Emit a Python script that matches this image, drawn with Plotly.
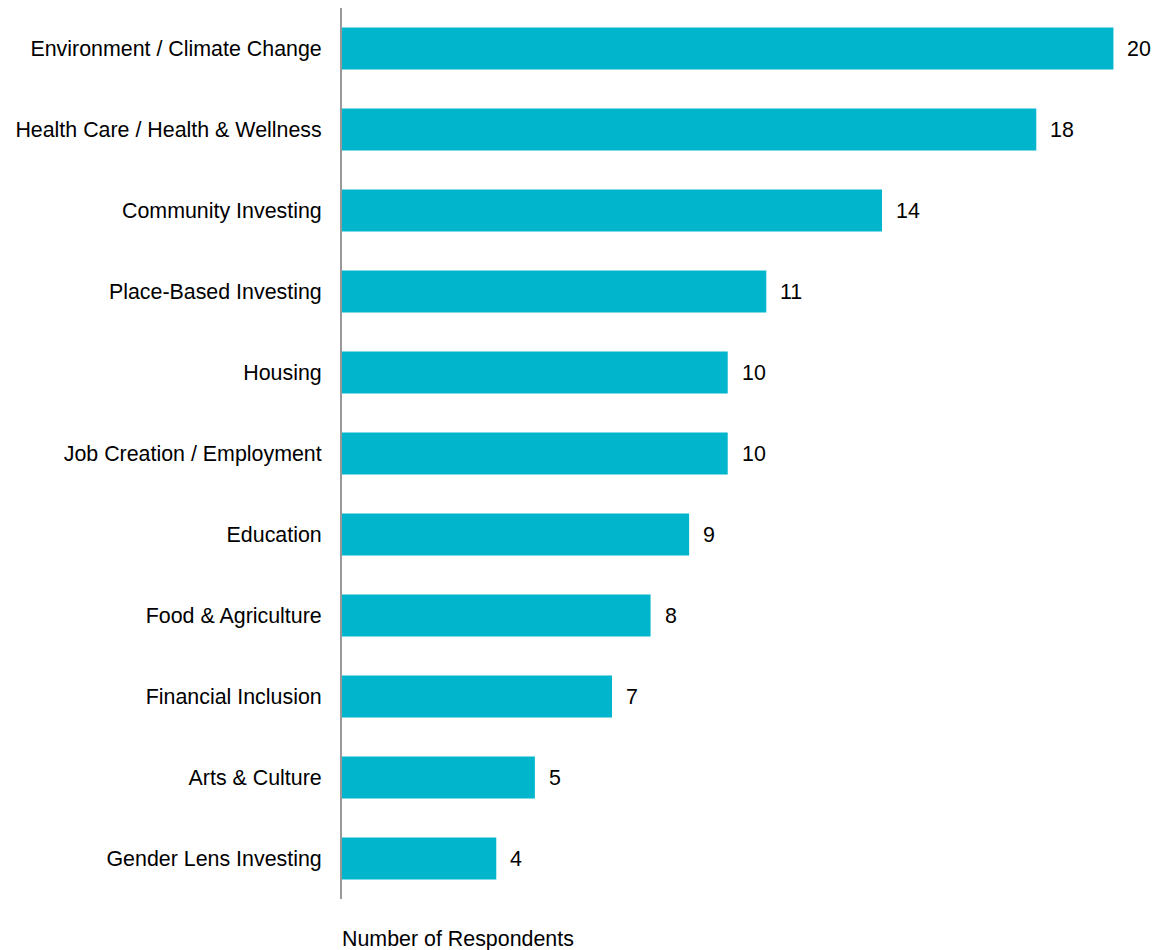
import plotly.graph_objects as go

categories = [
    "Environment / Climate Change",
    "Health Care / Health & Wellness",
    "Community Investing",
    "Place-Based Investing",
    "Housing",
    "Job Creation / Employment",
    "Education",
    "Food & Agriculture",
    "Financial Inclusion",
    "Arts & Culture",
    "Gender Lens Investing",
]
respondents = [20, 18, 14, 11, 10, 10, 9, 8, 7, 5, 4]

BAR_COLOR = "#00B5CC"
FONT = dict(family="Liberation Sans, Arial, sans-serif", size=21.4, color="#000000")

fig = go.Figure(
    go.Bar(
        x=respondents,
        y=categories,
        orientation="h",
        marker=dict(color=BAR_COLOR, line=dict(width=0)),
        width=0.52,
        hoverinfo="x+y",
    )
)

# value labels just past each bar end
for cat, val in zip(categories, respondents):
    fig.add_annotation(
        x=val, y=cat, text=str(val), showarrow=False,
        xanchor="left", yanchor="middle", xshift=12,
        font=FONT,
    )

fig.add_annotation(
    x=0, y=0, xref="x", yref="paper", text="Number of Respondents",
    showarrow=False, xanchor="left", yanchor="top", yshift=-26, xshift=-2,
    font=FONT,
)

fig.update_layout(
    width=1166, height=950,
    margin=dict(l=342, r=14, t=8, b=51),
    paper_bgcolor="white", plot_bgcolor="white",
    showlegend=False,
    font=FONT,
    xaxis=dict(range=[0, 21], showgrid=False, zeroline=False,
               showticklabels=False, ticks="", showline=False, fixedrange=True),
    yaxis=dict(showgrid=False, zeroline=False,
               showline=True, linecolor="#999999", linewidth=2,
               ticks="", ticklabelstandoff=14, tickfont=FONT,
               autorange=False, range=[10.5, -0.5]),
)

fig.write_html("out.html")
